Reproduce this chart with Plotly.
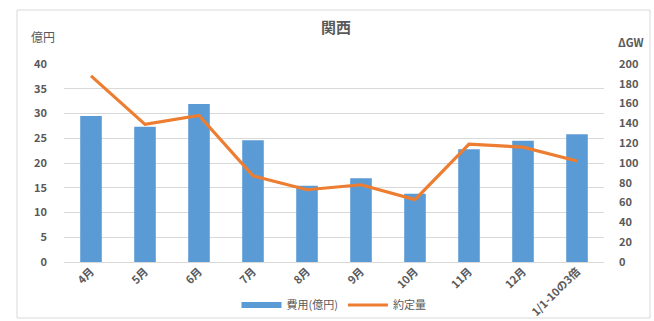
import plotly.graph_objects as go

# 関西: monthly cost (億円, bars) and contracted volume (ΔGW, line)
months = ["4月", "5月", "6月", "7月", "8月", "9月", "10月", "11月", "12月", "1/1-10の3倍"]
cost_oku = [29.5, 27.3, 31.9, 24.6, 15.4, 16.9, 13.8, 22.8, 24.5, 25.8]
volume_gw = [188, 139, 148, 87, 73, 78, 63, 119, 116, 102]

left_ticks = [0, 5, 10, 15, 20, 25, 30, 35, 40]
right_ticks = [0, 20, 40, 60, 80, 100, 120, 140, 160, 180, 200]

BLUE = "#5B9BD5"
ORANGE = "#ED7D31"
GREY = "#595959"
FONT = "Noto Sans CJK JP"

# plot-area pixel box inside the 654x321 canvas
PX_L, PX_R, PX_T, PX_B = 64, 604, 64, 262
PW, PH = PX_R - PX_L, PX_B - PX_T


def px(x):
    return (x - PX_L) / PW


def py(y):
    return (PX_B - y) / PH


tick_font = dict(size=11, color=GREY, weight=600)

fig = go.Figure()

fig.add_trace(go.Bar(
    x=months, y=cost_oku, name="費用(億円)", marker_color=BLUE,
    marker_line_width=0, showlegend=False, yaxis="y",
))
# legend entry drawn as a thick bar-coloured stroke
fig.add_trace(go.Scatter(
    x=[None], y=[None], mode="lines", name="費用(億円)",
    line=dict(color=BLUE, width=6), yaxis="y",
))
fig.add_trace(go.Scatter(
    x=months, y=volume_gw, mode="lines", name="約定量",
    line=dict(color=ORANGE, width=3.2), yaxis="y2",
))


def label(text, x, y, size, weight=None):
    font = dict(size=size, color=GREY)
    if weight:
        font["weight"] = weight
    return dict(text=text, x=px(x), y=py(y), xref="paper", yref="paper",
                xanchor="center", yanchor="middle", showarrow=False, font=font)


fig.update_layout(
    width=654, height=321,
    margin=dict(l=PX_L, r=654 - PX_R, t=PX_T, b=321 - PX_B, autoexpand=False),
    paper_bgcolor="white", plot_bgcolor="white",
    font=dict(family=FONT, color=GREY, size=11),
    bargap=0.6,
    showlegend=True,
    legend=dict(
        orientation="h", x=0.5, xanchor="center", y=py(305), yanchor="middle",
        font=dict(size=11, color=GREY), itemwidth=40, traceorder="normal",
        bgcolor="rgba(0,0,0,0)",
    ),
    xaxis=dict(
        type="category", tickangle=-45, showgrid=False, showline=False,
        ticks="", tickfont=tick_font, automargin=False,
    ),
    yaxis=dict(
        range=[0, 40], tickvals=left_ticks, showgrid=True, gridcolor="#D9D9D9",
        gridwidth=1, zeroline=True, zerolinecolor="#D9D9D9", zerolinewidth=1,
        ticks="", tickfont=tick_font, ticklabelstandoff=16, automargin=False,
    ),
    yaxis2=dict(
        range=[0, 200], tickvals=right_ticks, overlaying="y", side="right",
        showgrid=False, zeroline=False, ticks="",
        tickfont=tick_font, ticklabelstandoff=14, automargin=False,
    ),
    annotations=[
        label("<b>関西</b>", 336, 26, 15),
        label("億円", 43, 37, 12),
        label("ΔGW", 631, 42, 11, 600),
    ],
    shapes=[
        dict(type="rect", xref="paper", yref="paper",
             x0=px(17), x1=px(650), y0=py(318), y1=py(10),
             line=dict(color="#D9D9D9", width=1), fillcolor="rgba(0,0,0,0)",
             layer="below"),
    ],
)

fig.write_html("out.html")
